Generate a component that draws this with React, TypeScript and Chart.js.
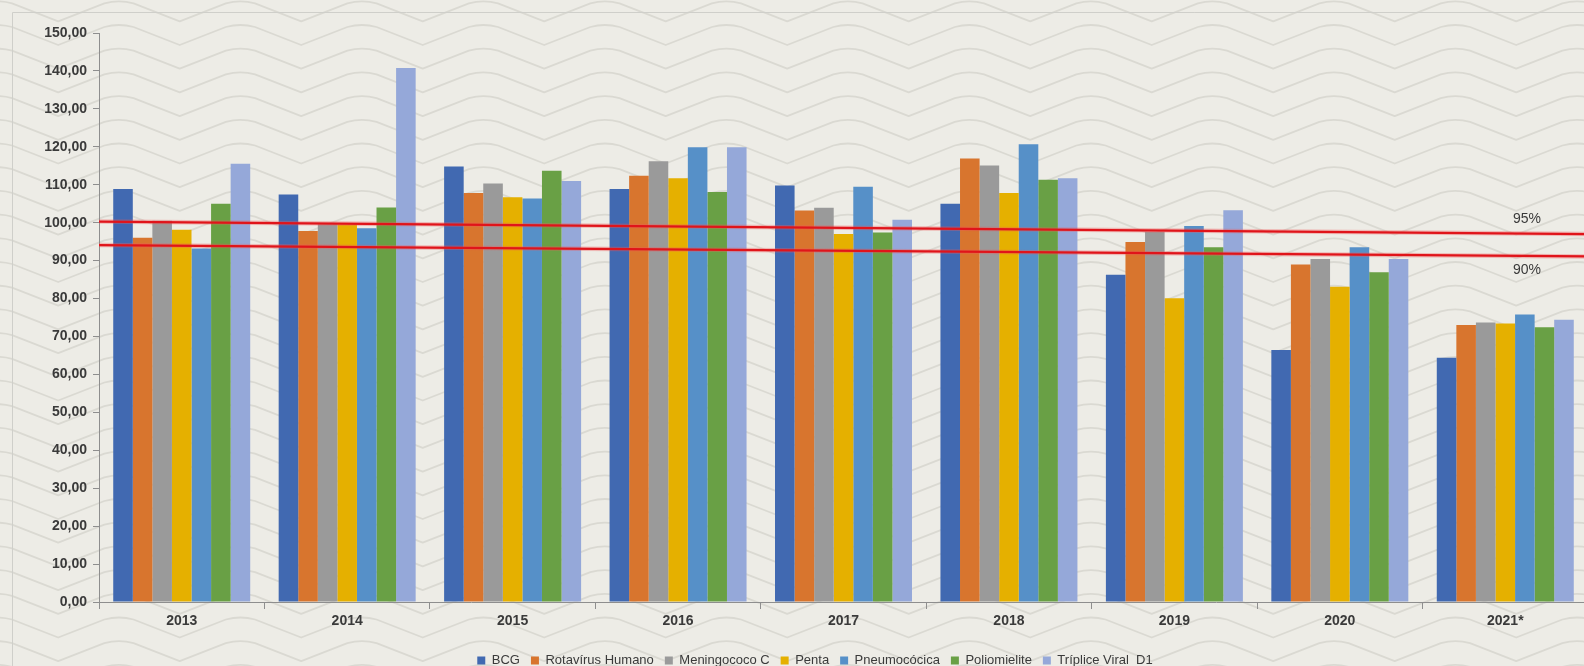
import React, { useEffect, useRef } from "react";
import { Chart, registerables } from "chart.js";

Chart.register(...registerables);

const categories = ["2013", "2014", "2015", "2016", "2017", "2018", "2019", "2020", "2021*"];

const seriesNames = [
  "BCG",
  "Rotavírus Humano",
  "Meningococo C",
  "Penta",
  "Pneumocócica",
  "Poliomielite",
  "Tríplice Viral  D1",
];

const bcg = [108.9, 107.4, 114.8, 108.9, 109.8, 105.0, 86.3, 66.4, 64.4];
const rotavirus = [96.0, 97.8, 107.8, 112.4, 103.2, 116.9, 94.9, 89.0, 73.0];
const meningococo = [100.5, 99.6, 110.3, 116.2, 103.9, 115.1, 97.6, 90.4, 73.7];
const penta = [98.1, 99.5, 106.7, 111.7, 97.0, 107.8, 80.1, 83.1, 73.4];
const pneumococica = [93.2, 98.5, 106.4, 119.9, 109.5, 120.7, 99.1, 93.5, 75.8];
const poliomielite = [105.0, 104.0, 113.7, 108.1, 97.4, 111.3, 93.5, 86.9, 72.4];
const triplice = [115.5, 140.8, 111.0, 119.9, 100.8, 111.7, 103.3, 90.4, 74.4];

const seriesValues = [bcg, rotavirus, meningococo, penta, pneumococica, poliomielite, triplice];

const seriesColors = ["#4169B1", "#D8752E", "#9A9A9A", "#E5B000", "#5690C8", "#69A045", "#95A8D9"];

// target reference lines (hand-drawn, slightly sloped): value at left edge, value at right edge
const targetLabels = ["95%", "90%"];
const target95 = [100.3, 97.0];
const target90 = [94.1, 91.1];

const yTicksMin = 0;
const yTicksMax = 150;
const yTickStep = 10;

const FONT = "'Liberation Sans', Arial, sans-serif";
const TEXT = "#3A3A3A";
const AXIS = "#8E8E8E";
const BG = "#EDECE6";
const WAVE = "#DAD9D2";

const LEGEND_CX = 815;
const LEGEND_TOP = 643;

const backgroundPlugin = {
  id: "bgWaves",
  beforeDraw(chart: any) {
    const ctx = chart.ctx;
    const w = chart.width;
    const h = chart.height;
    ctx.save();
    ctx.fillStyle = BG;
    ctx.fillRect(0, 0, w, h);
    ctx.strokeStyle = WAVE;
    ctx.lineWidth = 1.8;
    ctx.lineJoin = "round";
    const P = 121.5;
    const A = 20;
    const S = 23.7;
    const x0 = 58.2;
    const y0 = 45;
    for (let yt = y0 - S * 3; yt < h + A + S; yt += S) {
      ctx.beginPath();
      let first = true;
      for (let k = -1; x0 + k * P < w + P; k++) {
        const xt = x0 + k * P;
        if (first) {
          ctx.moveTo(xt, yt);
          first = false;
        }
        ctx.lineTo(xt + 0.38 * P, yt - A * 0.9);
        ctx.quadraticCurveTo(xt + 0.5 * P, yt - A * 1.1, xt + 0.62 * P, yt - A * 0.9);
        ctx.lineTo(xt + P, yt);
      }
      ctx.stroke();
    }
    ctx.strokeStyle = "#CFCFCA";
    ctx.lineWidth = 1;
    ctx.beginPath();
    ctx.moveTo(12.5, h);
    ctx.lineTo(12.5, 12.5);
    ctx.lineTo(w, 12.5);
    ctx.stroke();
    ctx.restore();
  },
};

const legendShiftPlugin = {
  id: "legendShift",
  afterLayout(chart: any) {
    const lg = chart.legend;
    if (!lg) return;
    const dx = LEGEND_CX - (lg.left + lg.right) / 2;
    lg.left += dx;
    lg.right += dx;
    const dy = LEGEND_TOP - lg.top;
    lg.top += dy;
    lg.bottom += dy;
  },
};

const targetLinesPlugin = {
  id: "targetLines",
  afterDatasetsDraw(chart: any) {
    const ctx = chart.ctx;
    const ys = chart.scales.y;
    const { left, right } = chart.chartArea;
    const lines = [target95, target90];
    ctx.save();
    lines.forEach((ln) => {
      ctx.strokeStyle = "rgba(240,90,90,0.35)";
      ctx.lineWidth = 4.5;
      ctx.beginPath();
      ctx.moveTo(left, ys.getPixelForValue(ln[0]));
      ctx.lineTo(right, ys.getPixelForValue(ln[1]));
      ctx.stroke();
      ctx.strokeStyle = "#E0141A";
      ctx.lineWidth = 2.2;
      ctx.beginPath();
      ctx.moveTo(left, ys.getPixelForValue(ln[0]));
      ctx.lineTo(right, ys.getPixelForValue(ln[1]));
      ctx.stroke();
    });
    const f = 0.959;
    ctx.font = `14px ${FONT}`;
    ctx.fillStyle = TEXT;
    ctx.textAlign = "center";
    ctx.textBaseline = "middle";
    lines.forEach((ln, i) => {
      const v = ln[0] + (ln[1] - ln[0]) * f;
      const px = left + (right - left) * f;
      const py = ys.getPixelForValue(v) + (i === 0 ? -14 : 14);
      ctx.fillText(targetLabels[i], px, py);
    });
    ctx.restore();
  },
};

export default function App() {
  const ref = useRef<HTMLCanvasElement | null>(null);

  useEffect(() => {
    if (!ref.current) return;
    const barSets = seriesNames.map((name, i) => ({
      label: name,
      data: seriesValues[i],
      backgroundColor: seriesColors[i],
      borderWidth: 0,
      categoryPercentage: 0.828,
      barPercentage: 1.0,
    }));

    const chart = new Chart(ref.current, {
      type: "bar",
      data: {
        labels: categories,
        datasets: barSets as any,
      },
      plugins: [backgroundPlugin, legendShiftPlugin, targetLinesPlugin],
      options: {
        responsive: false,
        animation: false,
        devicePixelRatio: 1,
        layout: { padding: { left: 0, right: 0, top: 33, bottom: 0 } },
        plugins: {
          tooltip: { enabled: false },
          title: { display: false },
          legend: {
            position: "bottom",
            labels: {
              boxWidth: 8,
              boxHeight: 8,
              padding: 11,
              color: TEXT,
              font: { family: FONT, size: 13 },
            },
          },
        },
        scales: {
          x: {
            type: "category",
            offset: true,
            grid: {
              offset: true,
              drawOnChartArea: false,
              drawTicks: true,
              tickLength: 7,
              color: AXIS,
            },
            border: { display: true, color: AXIS, width: 1 },
            ticks: {
              color: TEXT,
              font: { family: FONT, size: 14, weight: "bold" },
              padding: 4,
              maxRotation: 0,
            },
            afterFit: (s: any) => {
              s.height = 30;
            },
          } as any,
          y: {
            min: yTicksMin,
            max: yTicksMax,
            grid: {
              drawOnChartArea: false,
              drawTicks: true,
              tickLength: 6,
              color: AXIS,
            },
            border: { display: true, color: AXIS, width: 1 },
            ticks: {
              stepSize: yTickStep,
              color: TEXT,
              padding: 6,
              font: { family: FONT, size: 14, weight: "bold" },
              callback: (v: any) => Number(v).toFixed(2).replace(".", ","),
            },
            afterFit: (s: any) => {
              s.width = 99;
            },
          } as any,
        },
      } as any,
    });
    return () => chart.destroy();
  }, []);

  return (
    <div
      style={{
        position: "fixed",
        left: 0,
        top: 0,
        width: 1584,
        height: 666,
        overflow: "hidden",
        background: BG,
      }}
    >
      <canvas ref={ref} width={1588} height={666} style={{ display: "block", width: 1588, height: 666 }} />
    </div>
  );
}
